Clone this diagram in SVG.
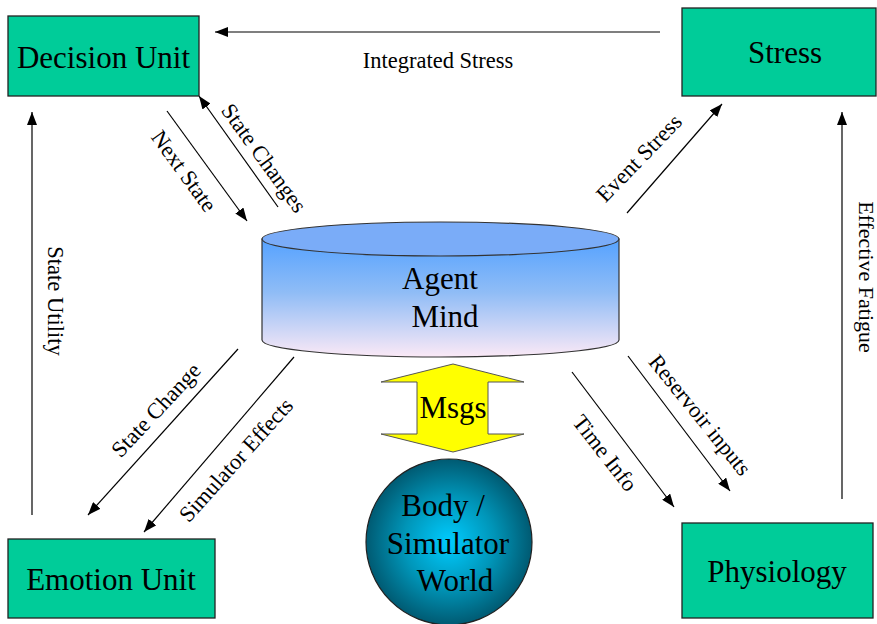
<svg xmlns="http://www.w3.org/2000/svg" width="877" height="624" viewBox="0 0 877 624" font-family="'Liberation Serif', 'Times New Roman', 'DejaVu Serif', serif">
<style>
.box{fill:#00cc99;stroke:#222;stroke-width:1.3}
.big{font-family:'Liberation Serif','Times New Roman','DejaVu Serif',serif;font-size:31px;fill:#000;text-anchor:middle}
.lbl{font-family:'Liberation Serif','Times New Roman','DejaVu Serif',serif;font-size:22.5px;fill:#000;text-anchor:middle}
.con{stroke:#000;stroke-width:1.2;fill:none;marker-end:url(#ah)}
</style>
<defs>
<marker id="ah" markerUnits="userSpaceOnUse" markerWidth="14" markerHeight="10" refX="13" refY="5" orient="auto">
<path d="M0,0 L13,5 L0,10 Z" fill="#000"/>
</marker>
<linearGradient id="cyl" x1="0" y1="0" x2="0" y2="1">
<stop offset="0" stop-color="#55a2ff"/>
<stop offset="0.45" stop-color="#8fbcf6"/>
<stop offset="1" stop-color="#fbe9f6"/>
</linearGradient>
<radialGradient id="sph" cx="0.5" cy="0.5" r="0.5">
<stop offset="0" stop-color="#00ccff"/>
<stop offset="0.55" stop-color="#0095b8"/>
<stop offset="1" stop-color="#005a72"/>
</radialGradient>
</defs>

<g id="connectors">
<line class="con" x1="660" y1="32" x2="215" y2="32"/>
<line class="con" x1="167" y1="111" x2="247" y2="221"/>
<line class="con" x1="278" y1="207" x2="199" y2="96"/>
<line class="con" x1="627" y1="213" x2="722" y2="104"/>
<line class="con" x1="842" y1="499" x2="842" y2="112"/>
<line class="con" x1="32" y1="515" x2="32" y2="112"/>
<line class="con" x1="238" y1="349" x2="88" y2="515"/>
<line class="con" x1="294" y1="357" x2="144" y2="532"/>
<line class="con" x1="572" y1="372" x2="674" y2="507"/>
<line class="con" x1="628" y1="356" x2="730" y2="491"/>
<text class="lbl" x="438" y="68">Integrated Stress</text>
<text class="lbl" transform="translate(184,171) rotate(54)" dominant-baseline="central">Next State</text>
<text class="lbl" transform="translate(264,158) rotate(54)" dominant-baseline="central">State Changes</text>
<text class="lbl" transform="translate(639,158) rotate(-46)" dominant-baseline="central">Event Stress</text>
<text class="lbl" transform="translate(55,301) rotate(90)" dominant-baseline="central">State Utility</text>
<text class="lbl" transform="translate(866,277) rotate(90)" dominant-baseline="central" style="font-size:22px">Effective Fatigue</text>
<text class="lbl" transform="translate(156,410) rotate(-47)" dominant-baseline="central">State Change</text>
<text class="lbl" transform="translate(236,460) rotate(-48)" dominant-baseline="central">Simulator Effects</text>
<text class="lbl" transform="translate(605,453) rotate(52)" dominant-baseline="central">Time Info</text>
<text class="lbl" transform="translate(700,415) rotate(51)" dominant-baseline="central">Reservoir inputs</text>
</g>

<g id="decision-unit">
<rect class="box" x="8" y="16" width="191" height="80"/>
<text class="big" x="103.5" y="68">Decision Unit</text>
</g>
<g id="stress">
<rect class="box" x="682" y="8" width="194" height="88"/>
<text class="big" x="785" y="63">Stress</text>
</g>
<g id="emotion-unit">
<rect class="box" x="8" y="539" width="207" height="79"/>
<text class="big" x="111" y="590">Emotion Unit</text>
</g>
<g id="physiology">
<rect class="box" x="682" y="523" width="191" height="95"/>
<text class="big" x="777" y="582">Physiology</text>
</g>

<g id="agent-mind">
<path d="M262,239 L262,340 A178.5,17 0 0 0 619,340 L619,239 Z" fill="url(#cyl)" stroke="#333" stroke-width="1.2"/>
<ellipse cx="440.5" cy="239" rx="178.5" ry="17" fill="#7aacf8" stroke="#333" stroke-width="1.2"/>
<text class="big" x="440" y="289">Agent</text>
<text class="big" x="445" y="327">Mind</text>
</g>

<g id="msgs">
<polygon points="453,364 524,382 488,382 488,434 524,434 453,452 381,434 417,434 417,382 381,382" fill="#ffff00" stroke="#555" stroke-width="1"/>
<text class="big" x="453" y="418">Msgs</text>
</g>

<g id="body-world">
<circle cx="449" cy="542" r="83" fill="url(#sph)" stroke="#222" stroke-width="1.2"/>
<text class="big" x="443" y="516">Body /</text>
<text class="big" x="448" y="554">Simulator</text>
<text class="big" x="455" y="591">World</text>
</g>
</svg>
